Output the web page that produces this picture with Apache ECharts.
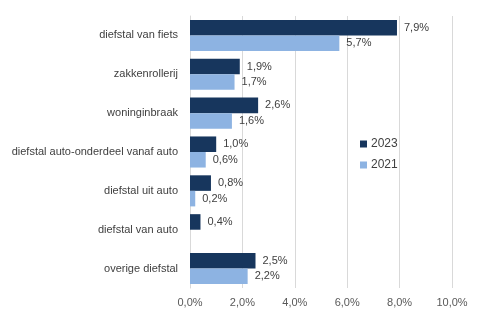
<!DOCTYPE html>
<html><head><meta charset="utf-8">
<script src="https://cdn.jsdelivr.net/npm/echarts@6/dist/echarts.min.js"></script>
<style>html,body{margin:0;padding:0;background:#fff}#c{width:480px;height:322px}</style>
</head><body><div id="c"></div>
<script>
const categories = ['diefstal van fiets','zakkenrollerij','woninginbraak','diefstal auto-onderdeel vanaf auto','diefstal uit auto','diefstal van auto','overige diefstal'];
const values2023 = [7.9, 1.9, 2.6, 1.0, 0.8, 0.4, 2.5];
const values2021 = [5.7, 1.7, 1.6, 0.6, 0.2, null, 2.2];
const xTicks = [0, 2, 4, 6, 8, 10];

const fmt = v => v.toFixed(1).replace('.', ',') + '%';
const font = 'Liberation Sans';
const chart = echarts.init(document.getElementById('c'));
chart.setOption({
  animation: false,
  textStyle: {fontFamily: font},
  grid: {left: 190, right: 28, top: 16, bottom: 34},
  legend: {
    orient: 'vertical', left: 355, top: 133, itemWidth: 7, itemHeight: 7, itemGap: 9,
    icon: 'rect',
    textStyle: {fontFamily: font, fontSize: 12, color: '#404040', padding: [0,0,0,-1]},
    data: ['2023', '2021']
  },
  xAxis: {
    type: 'value', min: xTicks[0], max: xTicks[xTicks.length-1], interval: 2,
    axisLabel: {formatter: fmt, color: '#595959', fontSize: 11, margin: 9},
    splitLine: {lineStyle: {color: '#d9d9d9'}},
    axisLine: {show: false}, axisTick: {show: false}
  },
  yAxis: {
    type: 'category', data: categories, inverse: true,
    axisLabel: {color: '#404040', fontSize: 11, margin: 12},
    axisLine: {lineStyle: {color: '#d9d9d9'}}, axisTick: {show: false}
  },
  series: [
    {name: '2023', type: 'bar', data: values2023, barGap: '0%', barCategoryGap: '20%',
     itemStyle: {color: '#17365d'},
     label: {show: true, position: 'right', formatter: p => fmt(p.value), color: '#404040', fontSize: 11, distance: 7}},
    {name: '2021', type: 'bar', data: values2021, barGap: '0%', barCategoryGap: '20%',
     itemStyle: {color: '#8db3e2'},
     label: {show: true, position: 'right', formatter: p => fmt(p.value), color: '#404040', fontSize: 11, distance: 7}}
  ]
});
</script></body></html>
